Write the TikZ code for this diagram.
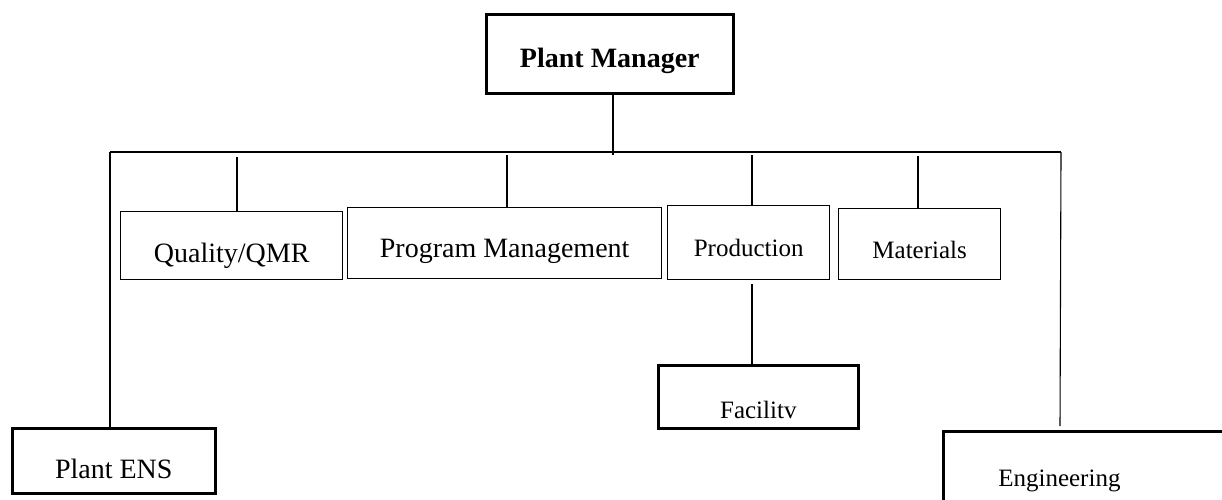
\documentclass[tikz,border=0pt]{standalone}
\usepackage{fontspec}
\setmainfont{Liberation Serif}
\usetikzlibrary{positioning}

\begin{document}
\begin{tikzpicture}[
        x=1pt, y=-1pt,
        big/.style={font=\fontsize{28}{32}\selectfont},
        norm/.style={font=\fontsize{25}{29}\selectfont},
        box/.style={draw, line width=1.3pt, inner sep=0pt, anchor=north west, align=center},
        heavy/.style={box, line width=2.6pt},
        link/.style={line width=1.1pt}
    ]
        \useasboundingbox (0,0) rectangle (1222,499);
        \clip (0,0) rectangle (1222,499);
        % boxes
        \node[heavy, big, minimum width=247pt, text height=53pt, text depth=26pt] (pm) at (485,13) {\textbf{Plant Manager}};
        \node[box, big, minimum width=222pt, text height=51pt, text depth=17pt] (qual) at (120,211) {Quality/QMR};
        \node[box, big, minimum width=314pt, text height=50pt, text depth=21pt] (prog) at (347,207) {Program Management};
        \node[box, norm, minimum width=162pt, text height=51pt, text depth=23pt] (prod) at (667,205) {Production};
        \node[box, norm, minimum width=162pt, text height=50pt, text depth=21pt] (mat) at (838,208) {Materials};
        \node[heavy, norm, minimum width=200pt, text height=53pt, text depth=10pt] (fac) at (657,364) {Facilitv};
        \node[heavy, big, minimum width=203pt, text height=50pt, text depth=15pt] (ens) at (11,427) {Plant ENS};
        % runs off the right edge
        \node[heavy, norm, text width=320pt, align=left, text height=55pt, text depth=40pt] (eng) at (942,430) {\hspace*{55pt}Engineering};
        % bus
        \coordinate (busL) at (110,152);
        \coordinate (busR) at (1061,152);
        \coordinate (pmend) at (613,155);
        \coordinate (qtop) at (237,157);
        \coordinate (ptop) at (507,155);
        \coordinate (prtop) at (752,155);
        \coordinate (mtop) at (918,156);
        \coordinate (fdrop) at (752,284);
        \coordinate (engtop) at (1060,426);
        \draw[link] (pmend |- pm.south) -- (pmend);
        \draw[link] (busL) -- (busR);
        \draw[link] (busL) -- (busL |- ens.north);
        \draw[link] (busR) -- (engtop);
        \draw[link] (qtop) -- (qtop |- qual.north);
        \draw[link] (ptop) -- (ptop |- prog.north);
        \draw[link] (prtop) -- (prtop |- prod.north);
        \draw[link] (mtop) -- (mtop |- mat.north);
        \draw[link] (fdrop) -- (fdrop |- fac.north);
    \end{tikzpicture}
\end{document}
